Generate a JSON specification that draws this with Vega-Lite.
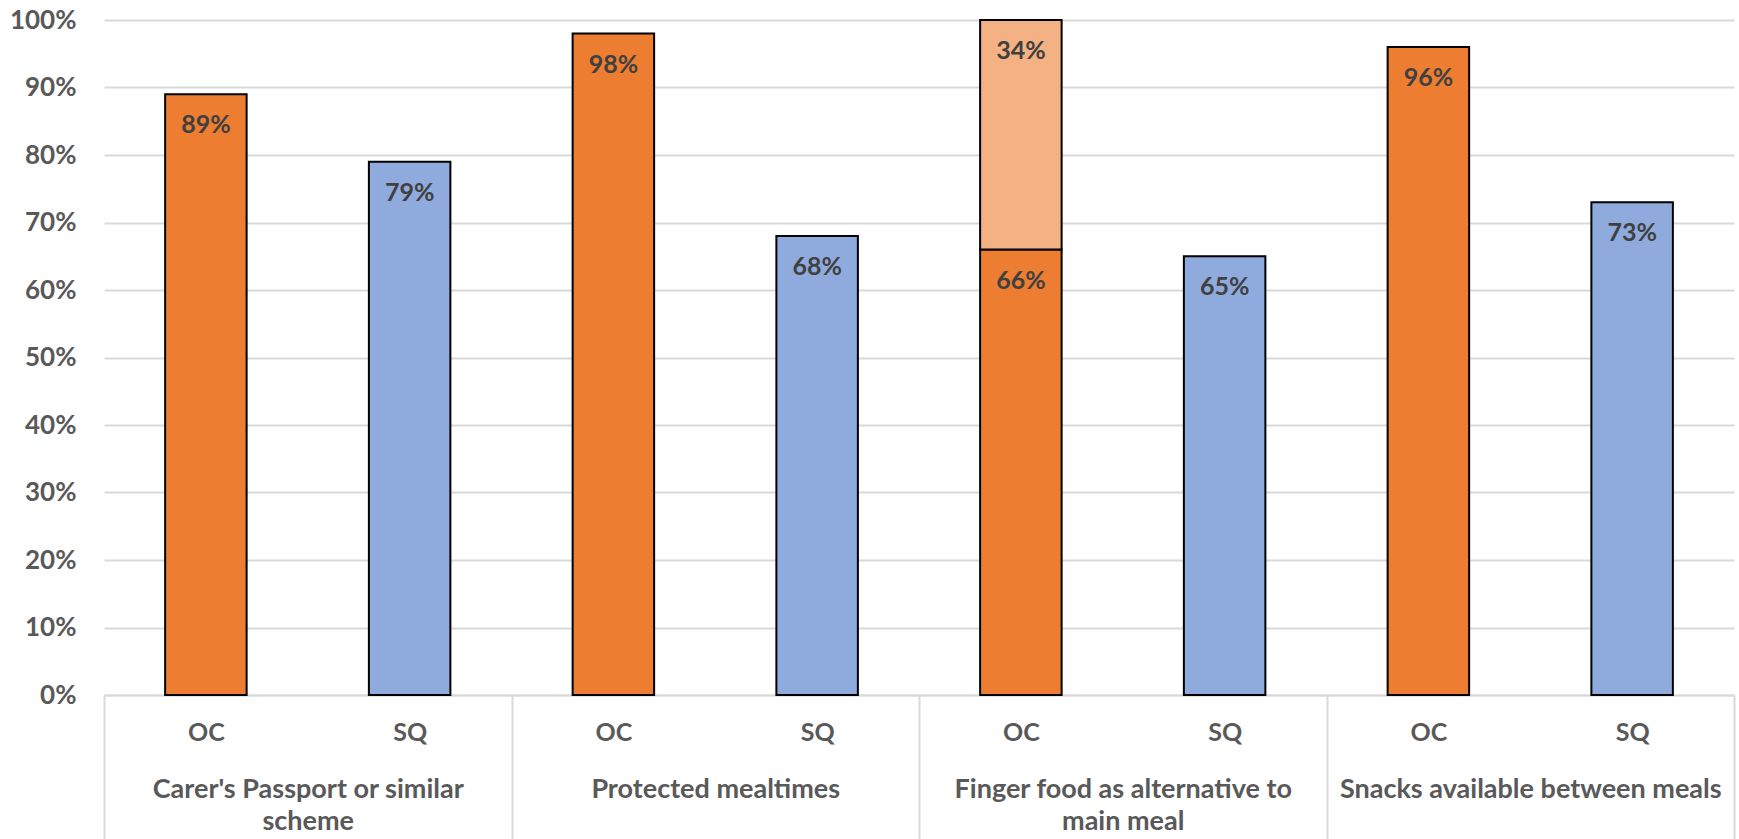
{
  "$schema": "https://vega.github.io/schema/vega-lite/v6.json",
  "autosize": {"type": "none"},
  "width": 1630,
  "height": 675,
  "padding": {"left": 104, "top": 20, "right": 5, "bottom": 144},
  "background": "white",
  "config": {
    "view": {"stroke": null},
    "font": "Lato",
    "axis": {"labelFont": "Lato", "labelFontWeight": "bold", "labelColor": "#595959", "labelFontSize": 25, "title": null}
  },
  "data": {
    "values": [
      {"category": "Carer's Passport or similar scheme", "series": "OC", "part": "OC", "key": "Carer's Passport or similar scheme|OC", "value": 0.89},
      {"category": "Carer's Passport or similar scheme", "series": "SQ", "part": "SQ", "key": "Carer's Passport or similar scheme|SQ", "value": 0.79},
      {"category": "Protected mealtimes", "series": "OC", "part": "OC", "key": "Protected mealtimes|OC", "value": 0.98},
      {"category": "Protected mealtimes", "series": "SQ", "part": "SQ", "key": "Protected mealtimes|SQ", "value": 0.68},
      {"category": "Finger food as alternative to main meal", "series": "OC", "part": "OC", "key": "Finger food as alternative to main meal|OC", "value": 0.66},
      {"category": "Finger food as alternative to main meal", "series": "OC", "part": "OC (partly)", "key": "Finger food as alternative to main meal|OC", "value": 0.34},
      {"category": "Finger food as alternative to main meal", "series": "SQ", "part": "SQ", "key": "Finger food as alternative to main meal|SQ", "value": 0.65},
      {"category": "Snacks available between meals", "series": "OC", "part": "OC", "key": "Snacks available between meals|OC", "value": 0.96},
      {"category": "Snacks available between meals", "series": "SQ", "part": "SQ", "key": "Snacks available between meals|SQ", "value": 0.73}
    ]
  },
  "resolve": {"scale": {"x": "independent"}, "axis": {"x": "independent"}},
  "layer": [
    {
      "mark": {"type": "bar", "stroke": "black", "strokeWidth": 2},
      "encoding": {
        "x": {
          "field": "category", "type": "nominal", "sort": null,
          "scale": {"paddingInner": 0, "paddingOuter": 0},
          "axis": {
            "orient": "bottom",
            "domain": true, "domainColor": "#d9d9d9", "domainWidth": 2,
            "ticks": true, "tickBand": "extent", "tickSize": 145, "tickColor": "#d9d9d9", "tickWidth": 2,
            "labelPadding": -64, "labelBaseline": "top", "labelLineHeight": 32, "labelAngle": 0, "labelFontSize": 27,
            "labelExpr": "split(replace(replace(datum.label, 'similar ', 'similar|'), 'to ', 'to|'), '|')",
            "labelLimit": 500
          }
        },
        "xOffset": {
          "field": "series", "type": "nominal",
          "scale": {"paddingInner": 0.6, "paddingOuter": 0.3}
        },
        "y": {
          "field": "value", "type": "quantitative", "stack": "zero",
          "scale": {"domain": [0, 1], "nice": false},
          "axis": {
            "values": [0, 0.1, 0.2, 0.3, 0.4, 0.5, 0.6, 0.7, 0.8, 0.9, 1],
            "format": ".0%", "domain": false, "ticks": false, "labelPadding": 28, "labelFontSize": 26,
            "grid": true, "gridColor": "#d9d9d9", "gridWidth": 2
          }
        },
        "color": {
          "field": "part", "type": "nominal",
          "scale": {"domain": ["OC", "OC (partly)", "SQ"], "range": ["#ED7D31", "#F4B183", "#8FAADC"]},
          "legend": null
        },
        "order": {"field": "part", "sort": "ascending"}
      }
    },
    {
      "mark": {"type": "text", "baseline": "middle", "dy": 31, "fontSize": 25, "fontWeight": "bold", "font": "Lato", "fill": "#404040"},
      "encoding": {
        "x": {
          "field": "key", "type": "nominal", "sort": null,
          "scale": {"paddingInner": 0, "paddingOuter": 0},
          "axis": {
            "orient": "bottom", "domain": false, "ticks": false, "tickSize": 0, "grid": false,
            "labelPadding": 25, "labelBaseline": "top", "labelAngle": 0,
            "labelExpr": "split(datum.label, '|')[1]"
          }
        },
        "y": {"field": "value", "type": "quantitative", "stack": "zero"},
        "detail": {"field": "part"},
        "order": {"field": "part", "sort": "ascending"},
        "text": {"field": "value", "type": "quantitative", "format": ".0%"}
      }
    }
  ]
}
